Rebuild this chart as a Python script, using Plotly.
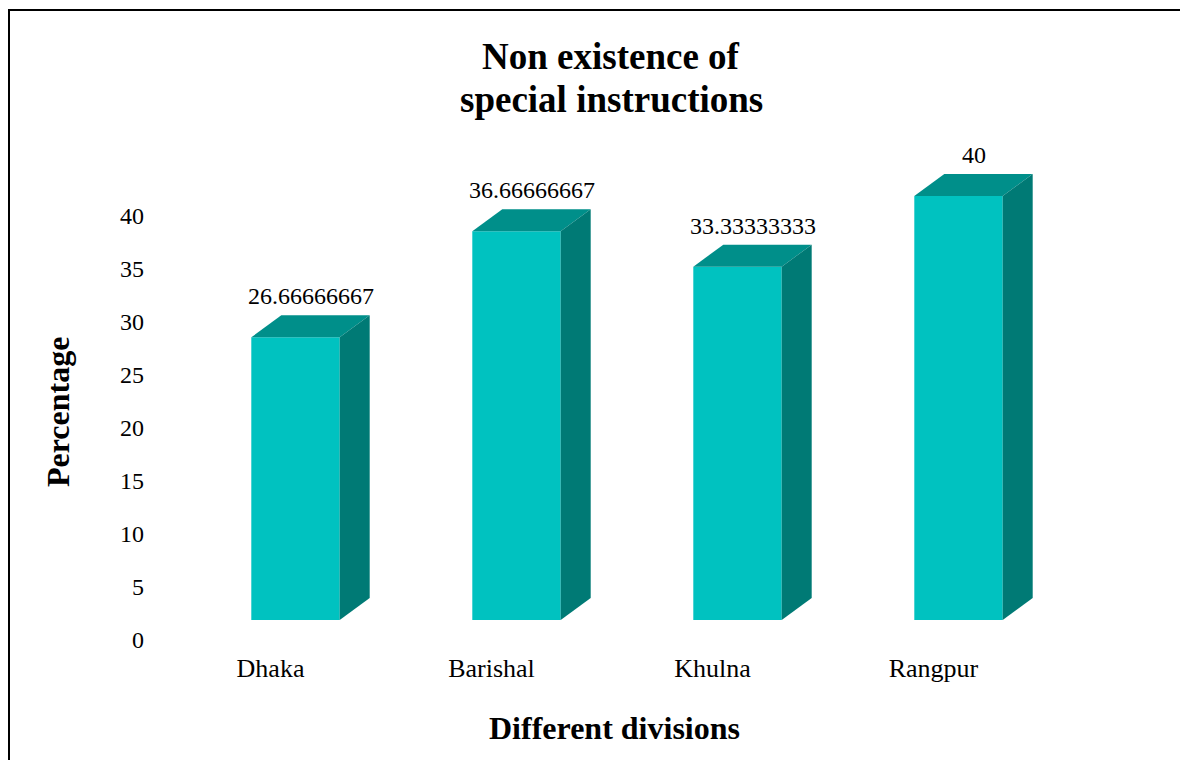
import plotly.graph_objects as go

categories = ["Dhaka", "Barishal", "Khulna", "Rangpur"]
values = [26.66666667, 36.66666667, 33.33333333, 40]
value_labels = ["26.66666667", "36.66666667", "33.33333333", "40"]
y_ticks = [0, 5, 10, 15, 20, 25, 30, 35, 40]

W, H = 1180, 760
ML, MR, MT, MB = 185, 111, 122, 140
PW, PH = W - ML - MR, H - MT - MB
X_RANGE = [-0.5, 3.5]
PX_PER_UNIT = 10.6
Y_RANGE = [0, PH / PX_PER_UNIT]

BAR_W = 0.4
DX = 30 / (PW / (X_RANGE[1] - X_RANGE[0]))
DY = 22 / PX_PER_UNIT

FRONT = "#00C2C0"
TOP = "#008F8A"
SIDE = "#007A75"
FONT = "Liberation Serif"

xs = list(range(len(categories)))
fig = go.Figure()

# front faces
fig.add_trace(go.Bar(x=xs, y=values, width=BAR_W, marker=dict(color=FRONT, line=dict(width=0)),
                     hoverinfo="skip", showlegend=False))

for x, v in zip(xs, values):
    l, r = x - BAR_W / 2, x + BAR_W / 2
    # top face
    fig.add_trace(go.Scatter(x=[l, r, r + DX, l + DX, l], y=[v, v, v + DY, v + DY, v],
                             mode="lines", fill="toself", fillcolor=TOP, line=dict(width=0, color=TOP),
                             hoverinfo="skip", showlegend=False))
    # side face
    fig.add_trace(go.Scatter(x=[r, r + DX, r + DX, r, r], y=[0, DY, v + DY, v, 0],
                             mode="lines", fill="toself", fillcolor=SIDE, line=dict(width=0, color=SIDE),
                             hoverinfo="skip", showlegend=False))

annotations = []
for x, v, t in zip(xs, values, value_labels):
    annotations.append(dict(x=x + DX / 2, y=v + DY, text=t, showarrow=False, yanchor="bottom",
                            yshift=4, font=dict(family=FONT, size=24, color="black")))

def px_to_paper_x(px):
    return (px - ML) / PW

def px_to_paper_y(py):
    return (H - MB - py) / PH

annotations += [
    dict(text="<b>Non existence of</b>", x=px_to_paper_x(611), y=px_to_paper_y(57), xref="paper", yref="paper",
         showarrow=False, xanchor="center", yanchor="middle", font=dict(family=FONT, size=37, color="black")),
    dict(text="<b>special instructions</b>", x=px_to_paper_x(611), y=px_to_paper_y(100), xref="paper", yref="paper",
         showarrow=False, xanchor="center", yanchor="middle", font=dict(family=FONT, size=37, color="black")),
    dict(text="<b>Different divisions</b>", x=px_to_paper_x(614), y=px_to_paper_y(728), xref="paper", yref="paper",
         showarrow=False, xanchor="center", yanchor="middle", font=dict(family=FONT, size=32, color="black")),
    dict(text="<b>Percentage</b>", x=px_to_paper_x(58), y=px_to_paper_y(412), xref="paper", yref="paper",
         showarrow=False, xanchor="center", yanchor="middle", textangle=-90,
         font=dict(family=FONT, size=32, color="black")),
]

fig.update_layout(
    width=W, height=H,
    margin=dict(l=ML, r=MR, t=MT, b=MB, pad=0),
    paper_bgcolor="white", plot_bgcolor="white",
    showlegend=False,
    annotations=annotations,
    shapes=[dict(type="rect", xref="paper", yref="paper",
                 x0=px_to_paper_x(9), y0=px_to_paper_y(H + 20), x1=px_to_paper_x(W + 20), y1=px_to_paper_y(10),
                 line=dict(color="black", width=2), fillcolor="rgba(0,0,0,0)", layer="above")],
    xaxis=dict(range=X_RANGE, tickvals=xs, ticktext=categories, showgrid=False, zeroline=False,
               showline=False, ticks="", ticklabelshift=-25, ticklabelstandoff=30,
               tickfont=dict(family=FONT, size=26, color="black"), fixedrange=True),
    yaxis=dict(range=Y_RANGE, tickvals=y_ticks, showgrid=False, zeroline=False, showline=False,
               ticks="", ticklabelshift=20, ticklabelstandoff=40,
               tickfont=dict(family=FONT, size=24, color="black"), fixedrange=True),
)

fig.write_html("out.html")
